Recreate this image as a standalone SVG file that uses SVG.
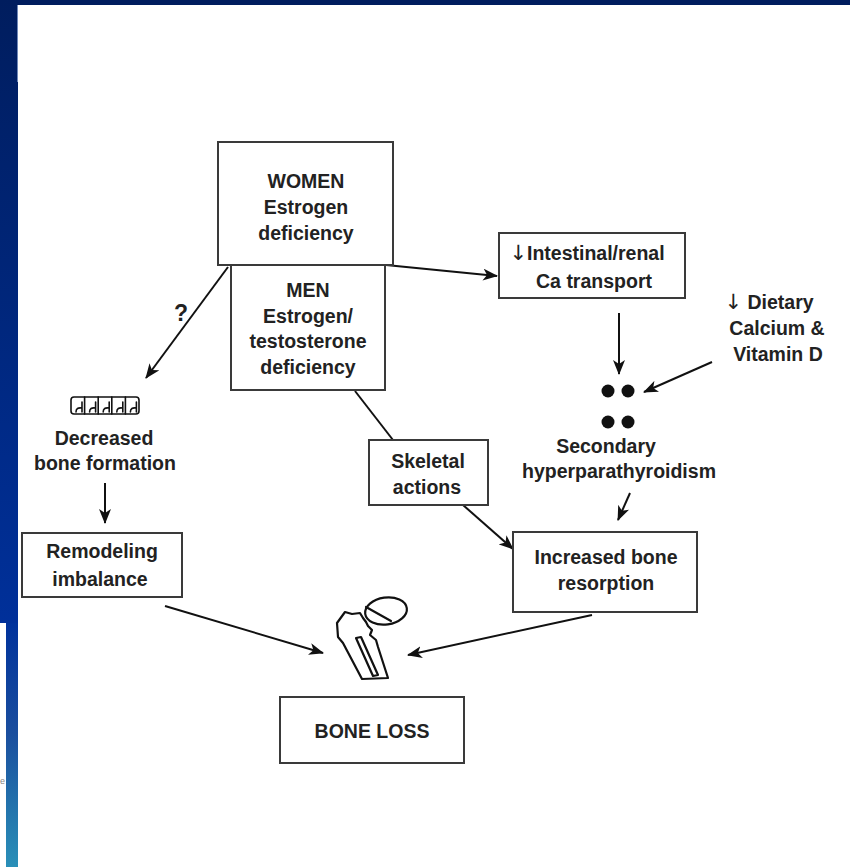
<svg xmlns="http://www.w3.org/2000/svg" width="850" height="867" viewBox="0 0 850 867">
  <defs>
    <linearGradient id="stripTop" x1="0" y1="0" x2="0" y2="1">
      <stop offset="0" stop-color="#001d5e"/>
      <stop offset="1" stop-color="#00309a"/>
    </linearGradient>
    <linearGradient id="stripBottom" x1="0" y1="0" x2="0" y2="1">
      <stop offset="0" stop-color="#00329c"/>
      <stop offset="0.45" stop-color="#1a4e9e"/>
      <stop offset="1" stop-color="#2a90b8"/>
    </linearGradient>
    <marker id="arrow" markerUnits="userSpaceOnUse" markerWidth="16" markerHeight="12" refX="14" refY="6" orient="auto">
      <path d="M0,0 L15,6 L0,12 L4,6 Z" fill="#111"/>
    </marker>
    <style>
      .box { fill: #fff; stroke: #3a3a3a; stroke-width: 2; }
      .lbl { font-family: "Liberation Sans", Arial, sans-serif; font-weight: bold; font-size: 19.5px; fill: #222; text-anchor: middle; }
      .q { font-size: 23px; }
      .down { font-family: "DejaVu Sans", sans-serif; font-weight: normal; fill: #222; }
      .conn { stroke: #111; stroke-width: 2; fill: none; }
      .icon { stroke: #111; stroke-width: 2.2; fill: none; stroke-linejoin: round; stroke-linecap: round; }
    </style>
  </defs>

  <!-- slide frame -->
  <rect x="0" y="0" width="850" height="867" fill="#fff"/>
  <rect x="0" y="0" width="850" height="5" fill="#001d5e"/>
  <rect x="0" y="0" width="18" height="623" fill="url(#stripTop)"/>
  <rect x="6" y="623" width="12" height="244" fill="url(#stripBottom)"/>
  <line x1="17.5" y1="5" x2="17.5" y2="82" stroke="#6f88b8" stroke-width="1"/>
  <text x="0" y="784" font-family="Liberation Sans, Arial, sans-serif" font-size="9" fill="#888">e</text>

  <!-- connectors -->
  <g id="connectors">
    <line class="conn" x1="228" y1="267" x2="146" y2="378" marker-end="url(#arrow)"/>
    <line class="conn" x1="386" y1="265" x2="497" y2="276" marker-end="url(#arrow)"/>
    <line class="conn" x1="619" y1="313" x2="619" y2="374" marker-end="url(#arrow)"/>
    <line class="conn" x1="712" y1="362" x2="644" y2="392" marker-end="url(#arrow)"/>
    <line class="conn" x1="630" y1="493" x2="618" y2="520" marker-end="url(#arrow)"/>
    <line class="conn" x1="355" y1="391" x2="393" y2="440"/>
    <line class="conn" x1="463" y1="505" x2="513" y2="549" marker-end="url(#arrow)"/>
    <line class="conn" x1="105" y1="483" x2="105" y2="523" marker-end="url(#arrow)"/>
    <line class="conn" x1="165" y1="606" x2="323" y2="653" marker-end="url(#arrow)"/>
    <line class="conn" x1="592" y1="615" x2="408" y2="655" marker-end="url(#arrow)"/>
    <text x="181" y="321" class="lbl q">?</text>
  </g>

  <!-- WOMEN -->
  <g id="women">
    <rect class="box" x="218" y="142" width="175" height="123"/>
    <text class="lbl" x="306" y="188">WOMEN</text>
    <text class="lbl" x="306" y="214">Estrogen</text>
    <text class="lbl" x="306" y="240">deficiency</text>
  </g>

  <!-- MEN -->
  <g id="men">
    <rect class="box" x="231" y="265" width="154" height="125"/>
    <text class="lbl" x="308" y="297">MEN</text>
    <text class="lbl" x="308" y="323">Estrogen/</text>
    <text class="lbl" x="308" y="348">testosterone</text>
    <text class="lbl" x="308" y="374">deficiency</text>
  </g>

  <!-- Intestinal / renal Ca transport -->
  <g id="intestinal">
    <rect class="box" x="499" y="233" width="186" height="65"/>
    <text class="lbl" x="587" y="260"><tspan class="down" font-size="21">↓</tspan>Intestinal/renal</text>
    <text class="lbl" x="594" y="288">Ca transport</text>
  </g>

  <!-- Dietary calcium -->
  <g id="dietary">
    <text class="lbl" x="769" y="309"><tspan class="down" font-size="21">↓</tspan> Dietary</text>
    <text class="lbl" x="777" y="335">Calcium &amp;</text>
    <text class="lbl" x="778" y="361">Vitamin D</text>
  </g>

  <!-- Secondary hyperparathyroidism -->
  <g id="hyperpara">
    <circle cx="608" cy="391" r="6.5" fill="#111"/>
    <circle cx="628" cy="391" r="6.5" fill="#111"/>
    <circle cx="608" cy="422" r="6.5" fill="#111"/>
    <circle cx="628" cy="422" r="6.5" fill="#111"/>
    <text class="lbl" x="606" y="453">Secondary</text>
    <text class="lbl" x="619" y="478">hyperparathyroidism</text>
  </g>

  <!-- Decreased bone formation -->
  <g id="formation">
    <g class="icon" style="stroke-width:1.6">
      <rect x="71" y="397" width="68" height="17" rx="3"/>
      <line x1="84.6" y1="397" x2="84.6" y2="414"/>
      <line x1="98.2" y1="397" x2="98.2" y2="414"/>
      <line x1="111.8" y1="397" x2="111.8" y2="414"/>
      <line x1="125.4" y1="397" x2="125.4" y2="414"/>
      <path d="M82,402 L82,412 M82,408 Q76,407 76,412"/>
      <path d="M95.6,402 L95.6,412 M95.6,408 Q89.6,407 89.6,412"/>
      <path d="M109.2,402 L109.2,412 M109.2,408 Q103.2,407 103.2,412"/>
      <path d="M122.8,402 L122.8,412 M122.8,408 Q116.8,407 116.8,412"/>
      <path d="M136.4,402 L136.4,412 M136.4,408 Q130.4,407 130.4,412"/>
    </g>
    <text class="lbl" x="104" y="445">Decreased</text>
    <text class="lbl" x="105" y="470">bone formation</text>
  </g>

  <!-- Skeletal actions -->
  <g id="skeletal">
    <rect class="box" x="369" y="440" width="119" height="65"/>
    <text class="lbl" x="428" y="468">Skeletal</text>
    <text class="lbl" x="427" y="494">actions</text>
  </g>

  <!-- Remodeling imbalance -->
  <g id="remodeling">
    <rect class="box" x="22" y="533" width="160" height="64"/>
    <text class="lbl" x="102" y="558">Remodeling</text>
    <text class="lbl" x="100" y="586">imbalance</text>
  </g>

  <!-- Increased bone resorption -->
  <g id="resorption">
    <rect class="box" x="513" y="532" width="184" height="80"/>
    <text class="lbl" x="606" y="564">Increased bone</text>
    <text class="lbl" x="606" y="590">resorption</text>
  </g>

  <!-- femur -->
  <g id="femur" class="icon">
    <ellipse cx="386" cy="611" rx="21" ry="13.5" transform="rotate(-8 386 611)"/>
    <path d="M366,607 L391,621"/>
    <path d="M337,623 L345,612 L352,614 L360,613 L363,618 L366,622 L368,626 L372,630 L370,635 L376,640 L378,647 L388,678 L362,679 L343,643 L338,637 Z"/>
    <path d="M356,638 L373,676 L378,675 L361,637 Z"/>
  </g>

  <!-- BONE LOSS -->
  <g id="boneloss">
    <rect class="box" x="280" y="697" width="184" height="66"/>
    <text class="lbl" x="372" y="738">BONE LOSS</text>
  </g>
</svg>
